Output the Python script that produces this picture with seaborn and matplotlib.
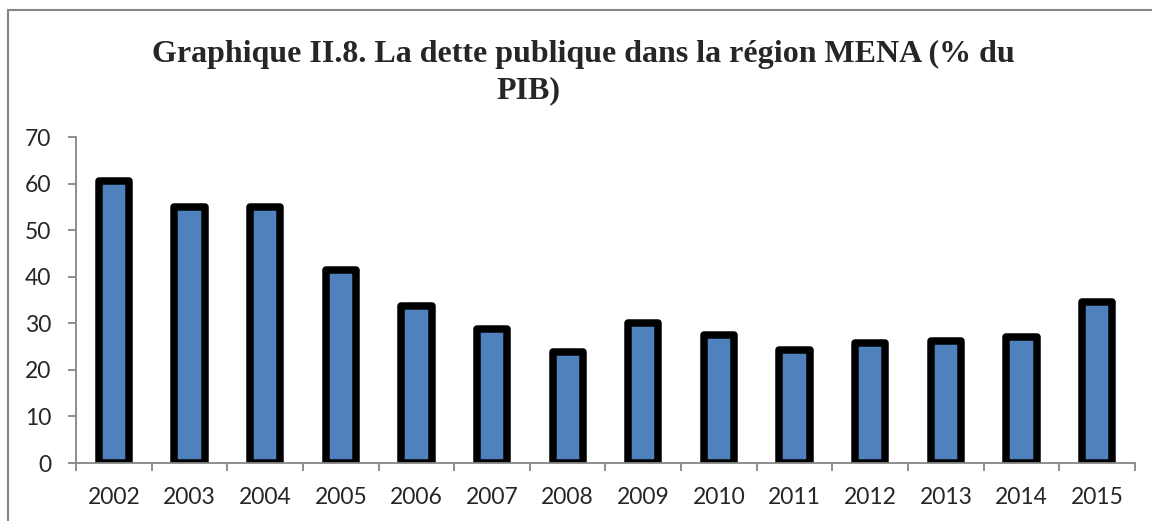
import numpy as np
import pandas as pd
import matplotlib
matplotlib.use("Agg")
import matplotlib.pyplot as plt
from matplotlib.patches import Rectangle
import seaborn as sns

annees = ["2002", "2003", "2004", "2005", "2006", "2007", "2008",
          "2009", "2010", "2011", "2012", "2013", "2014", "2015"]
dette = [60.5, 55.0, 55.0, 41.4, 33.7, 28.7, 23.9,
         30.1, 27.5, 24.3, 25.7, 26.2, 27.1, 34.6]
yticks = [0, 10, 20, 30, 40, 50, 60, 70]

df = pd.DataFrame({"annee": annees, "dette": dette})

sns.set_style("white")
plt.rcParams["font.family"] = ["Lato", "DejaVu Sans"]

fig = plt.figure(figsize=(11.52, 5.21), dpi=100)
ax = fig.add_axes([0.066, 0.1113, 0.9192, 0.6257])

sns.barplot(data=df, x="annee", y="dette", ax=ax, color="#4F81BD",
            saturation=1, width=0.4, edgecolor="black", linewidth=5.4)
for p in ax.patches:
    p.set_joinstyle("round")

ax.set_ylim(0, 70)
ax.set_xlim(-0.5, len(annees) - 0.5)
ax.set_yticks(yticks)
ax.set_xlabel("")
ax.set_ylabel("")

gris = "#868686"
for s in ["top", "right"]:
    ax.spines[s].set_visible(False)
for s in ["left", "bottom"]:
    ax.spines[s].set_color(gris)
    ax.spines[s].set_linewidth(1.3)

ax.set_xticks(np.arange(-0.5, len(annees)), minor=True)
ax.tick_params(axis="x", which="major", length=0, pad=17, labelsize=16.5)
ax.tick_params(axis="x", which="minor", length=6, width=1.3, color=gris, direction="out")
ax.tick_params(axis="y", length=6, width=1.3, color=gris, direction="out", labelsize=16.5, pad=12)
ax.tick_params(axis="y", which="major", left=True)
ax.tick_params(axis="x", which="minor", bottom=True)

fig.text(0.506, 0.895, "Graphique II.8. La dette publique dans la région MENA (% du",
         ha="center", va="center", fontsize=23, fontweight="bold",
         family="Liberation Serif")
fig.text(0.459, 0.826, "PIB)", ha="center", va="center", fontsize=23,
         fontweight="bold", family="Liberation Serif")

fig.patches.append(Rectangle((8 / 1152, -0.1), 1.2, 1 - 10 / 521 + 0.1,
                             transform=fig.transFigure, fill=False,
                             edgecolor=gris, linewidth=1.5))

fig.savefig("out.png", dpi=100)
